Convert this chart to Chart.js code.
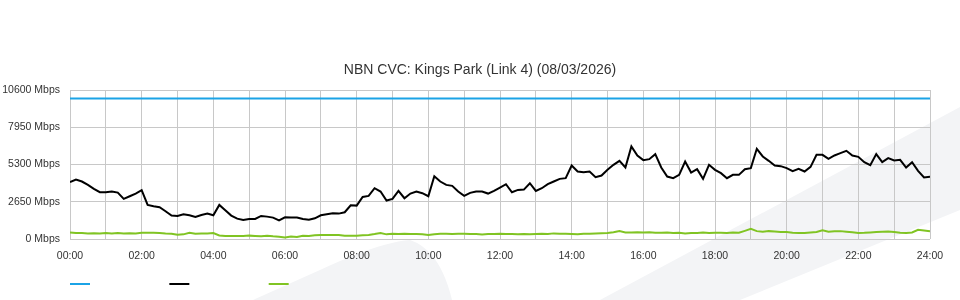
<!DOCTYPE html>
<html>
<head>
<meta charset="utf-8">
<title>NBN CVC: Kings Park (Link 4)</title>
<script src="https://cdn.jsdelivr.net/npm/chart.js@4.4.1/dist/chart.umd.min.js"></script>
<style>
  html, body { margin: 0; padding: 0; background: #fff; }
  #wrap { position: relative; width: 960px; height: 300px; overflow: hidden; }
  #bg, #myChart { position: absolute; left: 0; top: 0; }
</style>
</head>
<body>
<div id="wrap">
  <svg id="bg" width="960" height="300">
    <polygon points="960,107 600,300 740,300 960,210" fill="#f3f4f6"/>
    <path d="M253,300 L320,270 Q380,242 410,240 Q440,250 452,300 Z" fill="#f3f4f6"/>
  </svg>
  <canvas id="myChart" width="960" height="300"></canvas>
</div>
<script>
const chartTitle = 'NBN CVC: Kings Park (Link 4) (08/03/2026)';

// x tick labels, every 2 hours
const hourLabels = ['00:00', '02:00', '04:00', '06:00', '08:00', '10:00', '12:00',
  '14:00', '16:00', '18:00', '20:00', '22:00', '24:00'];
const yTickLabels = ['0 Mbps', '2650 Mbps', '5300 Mbps', '7950 Mbps', '10600 Mbps'];

// samples are 10 minutes apart, 00:00 -> 24:00
const sampleMinutes = 10;

// link capacity (flat)
const capacity = [10000, 10000];
const capacityHours = [0, 24];

// inbound (black)
const inbound = [
  4040, 4230, 4088, 3850, 3565, 3327, 3327, 3375, 3304, 2852, 3042, 3232,
  3470, 2424, 2329, 2258, 1973, 1664, 1640, 1759, 1688, 1569, 1711, 1806,
  1688, 2424, 2044, 1664, 1450, 1355, 1426, 1426, 1640, 1592, 1521, 1331,
  1545, 1521, 1521, 1426, 1378, 1474, 1688, 1759, 1830, 1806, 1902, 2401,
  2376, 2995, 3066, 3613, 3375, 2733, 2852, 3422, 2900, 3232, 3375, 3256,
  3042, 4468, 4088, 3850, 3779, 3375, 3066, 3280, 3375, 3375, 3232, 3422,
  3660, 3898, 3327, 3494, 3517, 3969, 3422, 3613, 3898, 4088, 4278, 4326,
  5229, 4801, 4753, 4801, 4397, 4516, 4920, 5276, 5561, 5086, 6583, 5942,
  5609, 5680, 6037, 5086, 4444, 4326, 4563, 5514, 4730, 4967, 4278, 5276,
  4920, 4682, 4326, 4563, 4563, 4967, 5039, 6417, 5870, 5561, 5229, 5181,
  5039, 4825, 4991, 4801, 5134, 5989, 5989, 5704, 5942, 6108, 6274, 5942,
  5847, 5466, 5253, 6037, 5466, 5752, 5585, 5633, 5086, 5466, 4848, 4373,
  4421
];

// outbound (green)
const outbound = [
  470, 420, 430, 400, 410, 390, 420, 400, 430, 400, 410, 400,
  440, 440, 440, 430, 400, 380, 300, 330, 450, 380, 400, 400,
  420, 250, 210, 210, 220, 210, 240, 220, 200, 230, 190, 160,
  110, 180, 150, 230, 220, 260, 280, 290, 290, 290, 230, 230,
  240, 270, 290, 350, 430, 330, 370, 360, 370, 350, 360, 330,
  280, 330, 370, 370, 360, 370, 370, 360, 360, 320, 350, 360,
  380, 350, 360, 340, 360, 330, 360, 380, 360, 400, 380, 370,
  360, 340, 370, 380, 400, 410, 420, 480, 560, 470, 470, 480,
  470, 480, 450, 440, 470, 430, 450, 400, 420, 430, 460, 420,
  450, 440, 430, 460, 450, 580, 720, 560, 520, 560, 530, 500,
  490, 450, 430, 420, 470, 500, 620, 520, 550, 560, 520, 480,
  430, 440, 470, 500, 520, 540, 500, 450, 430, 460, 650, 600,
  550
];

const colors = { capacity: '#1ba3e6', inbound: '#000000', outbound: '#80c423' };

// legend has no text, only coloured strokes spaced 100px apart
const legendGap = ' '.repeat(22);

const toPoints = (arr) => arr.map((v, i) => ({ x: i * sampleMinutes / 60, y: v }));

// title is centred on the whole canvas, not on the padded area
const centreTitle = {
  id: 'centreTitle',
  afterLayout(chart) {
    const t = chart.titleBlock;
    if (!t) return;
    t.left = 0;
    t.right = chart.width;
    t.width = chart.width;
  }
};

Chart.defaults.font.family = "'Liberation Sans', Arial, sans-serif";
Chart.defaults.color = '#333';

const ctx = document.getElementById('myChart').getContext('2d');

const myChart = new Chart(ctx, {
  type: 'line',
  data: {
    datasets: [{
      label: 'Capacity',
      data: capacity.map((v, i) => ({ x: capacityHours[i], y: v })),
      borderColor: colors.capacity,
      backgroundColor: colors.capacity,
      borderWidth: 2
    }, {
      label: 'Inbound',
      data: toPoints(inbound),
      borderColor: colors.inbound,
      backgroundColor: colors.inbound,
      borderWidth: 2
    }, {
      label: 'Outbound',
      data: toPoints(outbound),
      borderColor: colors.outbound,
      backgroundColor: colors.outbound,
      borderWidth: 2
    }]
  },
  options: {
    responsive: false,
    animation: false,
    layout: { padding: { top: 0, right: 30, bottom: 0, left: 0 } },
    elements: {
      point: { radius: 0 },
      line: { tension: 0 }
    },
    plugins: {
      title: {
        display: true,
        text: chartTitle,
        color: '#333',
        font: { size: 14, weight: 'normal' },
        padding: { top: 62, bottom: 11.2 }
      },
      legend: {
        position: 'bottom',
        align: 'start',
        fullSize: false,
        labels: {
          boxWidth: 20,
          boxHeight: 2,
          padding: 0,
          font: { size: 12 },
          generateLabels: (chart) => chart.data.datasets.map((d, i) => ({
            text: legendGap,
            fillStyle: d.borderColor,
            strokeStyle: d.borderColor,
            lineWidth: 0,
            hidden: false,
            datasetIndex: i
          }))
        }
      },
      tooltip: { enabled: false }
    },
    scales: {
      x: {
        type: 'linear',
        min: 0,
        max: 24,
        afterFit: (s) => { s.height = 39; },
        grid: { color: '#c8c8c8', drawTicks: false },
        border: { display: false },
        ticks: {
          stepSize: 1,
          autoSkip: false,
          maxRotation: 0,
          padding: 11,
          font: { size: 10.5 },
          callback: (v) => (v % 2 === 0 ? hourLabels[v / 2] : '')
        }
      },
      y: {
        min: 0,
        max: 10600,
        afterFit: (s) => { s.width = 70; },
        grid: { color: '#c8c8c8', drawTicks: false },
        border: { display: false },
        ticks: {
          stepSize: 2650,
          padding: 10,
          font: { size: 10.5 },
          callback: (v, i) => yTickLabels[i]
        }
      }
    }
  },
  plugins: [centreTitle]
});
</script>
</body>
</html>
